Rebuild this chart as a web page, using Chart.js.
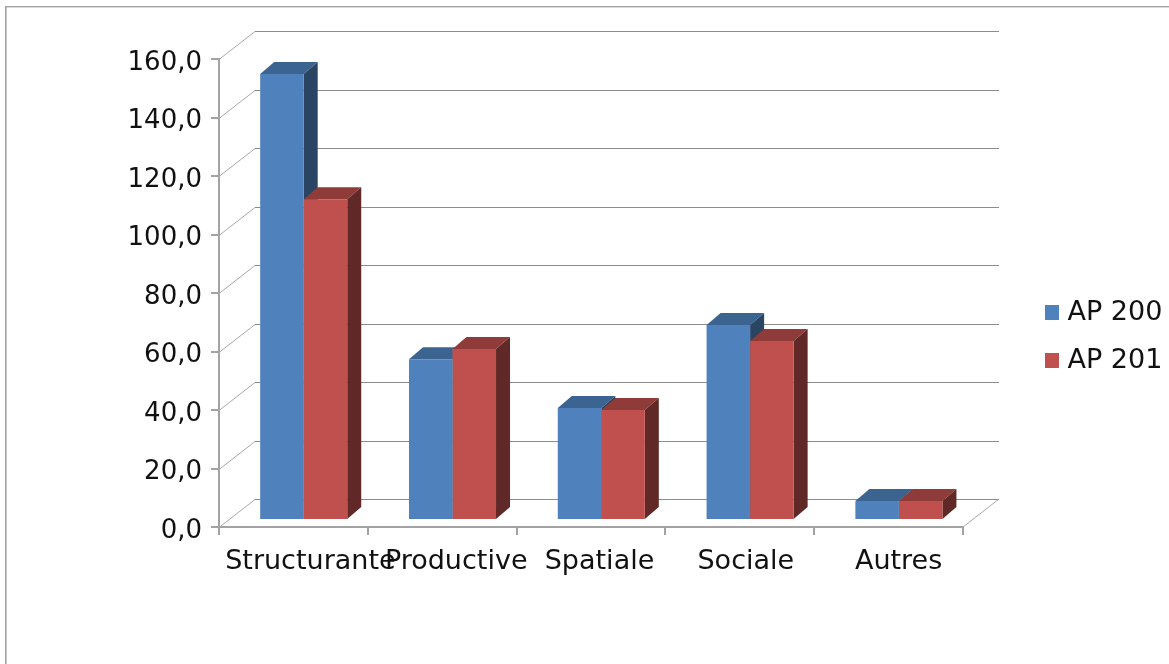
<!DOCTYPE html>
<html>
<head>
<meta charset="utf-8">
<style>html,body{margin:0;padding:0;background:#fff;overflow:hidden}canvas{display:block}</style>
<script src="https://cdn.jsdelivr.net/npm/chart.js@4"></script>
</head>
<body>
<canvas id="c" width="1169" height="664"></canvas>
<script>
const categories = ['Structurante', 'Productive', 'Spatiale', 'Sociale', 'Autres'];
const seriesNames = ['AP 2009', 'AP 2010'];
const ap2009 = [152.5, 55.0, 38.3, 66.7, 6.5];
const ap2010 = [109.7, 58.5, 37.6, 61.2, 6.5];
const faceColors = ['#4F81BD', '#C0504D'];
const topColors = ['#3C6491', '#8E3B39'];
const sideColors = ['#2A4562', '#602826'];

const FONT = {family: '"DejaVu Sans"', size: 26};
const FONT_X = {family: '"DejaVu Sans"', size: 27};
const FONT_LEGEND = {family: '"DejaVu Sans"', size: 27};
const LABEL_NUDGE = [17, 14, 8.5, 6, 10];
const WALL_DX = 36, WALL_DY = 28, BAR_SHIFT_X = 10.3, BAR_SHIFT_Y = -7, BAR_DX = 14, BAR_DY = 12;

const scene3d = {
  id: 'scene3d',
  afterLayout(chart) {
    const lg = chart.legend;
    lg.left = 1029; lg.right = 1300; lg.top = 278; lg.bottom = 500;
    chart.scales.x.getLabelItems().forEach((it, i) => { it.options.translation[0] += LABEL_NUDGE[i]; });
  },
  beforeDatasetsDraw(chart) {
    const {ctx, scales: {x, y}} = chart;
    const L = x.left, R = x.right;
    ctx.save();
    ctx.lineWidth = 1;
    y.ticks.forEach((t, i) => {
      const py = Math.round(y.getPixelForTick(i)) + 0.5;
      ctx.strokeStyle = '#a8a8a8';
      ctx.beginPath(); ctx.moveTo(L, py); ctx.lineTo(L + WALL_DX, py - WALL_DY); ctx.stroke();
      ctx.strokeStyle = '#8c8c8c';
      ctx.beginPath(); ctx.moveTo(L + WALL_DX, py - WALL_DY); ctx.lineTo(R + WALL_DX, py - WALL_DY); ctx.stroke();
    });
    const y0 = y.getPixelForValue(0);
    ctx.strokeStyle = '#a8a8a8';
    ctx.beginPath(); ctx.moveTo(R, y0); ctx.lineTo(R + WALL_DX, y0 - WALL_DY); ctx.stroke();
    ctx.restore();

    ctx.save();
    ctx.translate(BAR_SHIFT_X, BAR_SHIFT_Y);
    chart.data.datasets.forEach((ds, d) => {
      chart.getDatasetMeta(d).data.forEach(bar => {
        const l = bar.x - bar.width / 2, r = bar.x + bar.width / 2, t = bar.y, b = bar.base;
        ctx.fillStyle = topColors[d];
        ctx.beginPath(); ctx.moveTo(l, t); ctx.lineTo(l + BAR_DX, t - BAR_DY); ctx.lineTo(r + BAR_DX, t - BAR_DY); ctx.lineTo(r, t); ctx.closePath(); ctx.fill();
        ctx.fillStyle = sideColors[d];
        ctx.beginPath(); ctx.moveTo(r, t); ctx.lineTo(r + BAR_DX, t - BAR_DY); ctx.lineTo(r + BAR_DX, b - BAR_DY); ctx.lineTo(r, b); ctx.closePath(); ctx.fill();
      });
    });
    // fronts are drawn by the library, moved with the same shift
  },
  afterDatasetsDraw(chart) { chart.ctx.restore(); },
  afterDraw(chart) {
    const {ctx} = chart;
    ctx.save();
    ctx.fillStyle = '#fff';
    ctx.fillRect(1163, 270, 6, 130);
    ctx.fillStyle = '#a3a3a3';
    ctx.fillRect(5, 6, 1.6, 658);
    ctx.fillRect(5, 6, 1164, 1.4);
    ctx.restore();
  }
};

new Chart(document.getElementById('c'), {
  type: 'bar',
  data: {
    labels: categories,
    datasets: [
      {label: seriesNames[0], data: ap2009, backgroundColor: faceColors[0]},
      {label: seriesNames[1], data: ap2010, backgroundColor: faceColors[1]}
    ]
  },
  options: {
    responsive: false,
    animation: false,
    events: [],
    devicePixelRatio: 1,
    layout: {padding: {top: 59, right: 206, left: 0, bottom: 0}},
    datasets: {bar: {categoryPercentage: 0.585, barPercentage: 1}},
    scales: {
      x: {
        afterFit(s) { s.height = 137; },
        grid: {drawOnChartArea: false, color: '#a3a3a3', lineWidth: 2, tickLength: 8},
        border: {color: '#a3a3a3', width: 2},
        ticks: {color: '#111', font: FONT_X, maxRotation: 0, autoSkip: false, padding: 11}
      },
      y: {
        min: 0, max: 160,
        afterFit(s) { s.width = 219; },
        grid: {drawOnChartArea: false, color: '#a3a3a3', lineWidth: 2, tickLength: 8},
        border: {color: '#a3a3a3', width: 2},
        ticks: {stepSize: 20, color: '#111', font: FONT, padding: 9, labelOffset: 4,
                callback: v => v.toFixed(1).replace('.', ',')}
      }
    },
    plugins: {
      title: {display: false},
      tooltip: {enabled: false},
      legend: {
        display: true,
        position: 'chartArea',
        align: 'start',
        labels: {
          color: '#111', font: FONT_LEGEND, boxWidth: 4, boxHeight: 5, padding: 21,
          generateLabels: ch => ch.data.datasets.map((ds, i) => ({
            text: ds.label, fillStyle: faceColors[i], strokeStyle: faceColors[i], lineWidth: 10,
            fontColor: '#111', datasetIndex: i, hidden: false
          }))
        }
      }
    }
  },
  plugins: [scene3d]
});
</script>
</body>
</html>
